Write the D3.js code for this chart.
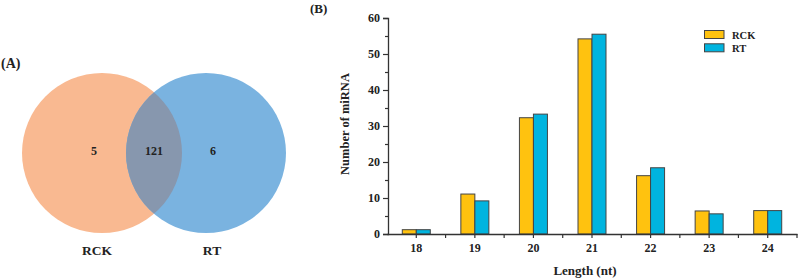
<!DOCTYPE html>
<html><head><meta charset="utf-8">
<script src="https://cdn.jsdelivr.net/npm/d3@7"></script>
<style>body{margin:0;background:#fff}svg{display:block}text{font-family:"Liberation Serif","Times New Roman",serif;font-weight:bold;fill:#222}</style>
</head><body><svg id="c" width="800" height="279"></svg>
<script>
const categories = ["18","19","20","21","22","23","24"];
const seriesNames = ["RCK","RT"];
const rckValues = [1.2, 11.1, 32.3, 54.2, 16.2, 6.4, 6.5];
const rtValues = [1.2, 9.2, 33.3, 55.5, 18.4, 5.6, 6.5];
const yTicks = [0,10,20,30,40,50,60];
const vennSets = ["RCK","RT"];
const vennCounts = [5, 121, 6]; // RCK only, both, RT only

const svg = d3.select("#c");
const colors = {RCK:"#FFC20F", RT:"#00B4DF"};

// ---- Venn ----
const r = 80, cy = 153, cxL = 102, cxR = 206;
svg.append("text").attr("x",1).attr("y",68).attr("font-size",14).text("(A)");
svg.append("circle").attr("cx",cxL).attr("cy",cy).attr("r",r).attr("fill","#F9B991");
svg.append("circle").attr("cx",cxR).attr("cy",cy).attr("r",r).attr("fill","#7AB3E0");
const defs = svg.append("defs");
defs.append("clipPath").attr("id","clipL").append("circle").attr("cx",cxL).attr("cy",cy).attr("r",r);
svg.append("circle").attr("cx",cxR).attr("cy",cy).attr("r",r).attr("fill","#8797AE").attr("clip-path","url(#clipL)");
const vx = [94, 154, 213];
vennCounts.forEach((v,i)=>svg.append("text").attr("x",vx[i]).attr("y",154.5).attr("text-anchor","middle").attr("font-size",12).text(v));
svg.append("text").attr("x",97).attr("y",255).attr("text-anchor","middle").attr("font-size",13.5).text(vennSets[0]);
svg.append("text").attr("x",212).attr("y",255).attr("text-anchor","middle").attr("font-size",13.5).text(vennSets[1]);

// ---- Bar chart ----
svg.append("text").attr("x",310).attr("y",13).attr("font-size",13).text("(B)");
const x = d3.scaleBand().domain(categories).range([387,797]).paddingInner(0).paddingOuter(0);
const y = d3.scaleLinear().domain([0,60]).range([234,18]);
const bw = 14;
const g = svg.append("g");
const data = categories.map((c,i)=>({c, vals:[rckValues[i], rtValues[i]]}));
data.forEach(d=>{
  d.vals.forEach((v,j)=>{
    const cx = x(d.c)+x.bandwidth()/2;
    g.append("rect").attr("x", cx - bw + j*bw).attr("y", y(v)).attr("width", bw).attr("height", y(0)-y(v))
      .attr("fill", colors[seriesNames[j]]).attr("stroke","#444").attr("stroke-width",1);
  });
});
// y axis
const yAxis = d3.axisLeft(y).tickValues(yTicks).tickSize(5).tickPadding(3);
const ya = svg.append("g").attr("transform","translate(388,0)").call(yAxis);
ya.select(".domain").attr("stroke","#333").attr("stroke-width",1.3);
ya.selectAll(".tick line").attr("stroke","#333").attr("stroke-width",1.2);
ya.selectAll(".tick text").attr("font-size",12).attr("fill","#222").attr("font-family","Liberation Serif, serif").attr("font-weight","bold");
const yMinor = d3.axisLeft(y).tickValues(d3.range(5,60,10)).tickSize(3).tickFormat("");
const ym = svg.append("g").attr("transform","translate(388,0)").call(yMinor);
ym.select(".domain").remove(); ym.selectAll(".tick line").attr("stroke","#333").attr("stroke-width",1.2);
// x axis
const xAxis = d3.axisBottom(x).tickSize(4).tickPadding(5).tickSizeOuter(0);
const xa = svg.append("g").attr("transform","translate(0,234)").call(xAxis);
xa.select(".domain").attr("stroke","#333").attr("stroke-width",1.3);
xa.selectAll(".tick line").attr("stroke","#333").attr("stroke-width",1.2);
xa.selectAll(".tick text").attr("font-size",12).attr("fill","#222").attr("font-family","Liberation Serif, serif").attr("font-weight","bold");
const xm = svg.append("g").attr("transform","translate(0,234)");
categories.slice(1).forEach(c=>{
  xm.append("line").attr("x1",x(c)).attr("x2",x(c)).attr("y1",0).attr("y2",4).attr("stroke","#333").attr("stroke-width",1.2);
});
xm.append("line").attr("x1",797).attr("x2",797).attr("y1",0).attr("y2",4).attr("stroke","#333").attr("stroke-width",1.2);
svg.append("text").attr("x",585).attr("y",275).attr("text-anchor","middle").attr("font-size",13).text("Length (nt)");
svg.append("text").attr("transform","translate(349,124) rotate(-90)").attr("text-anchor","middle").attr("font-size",12.5).text("Number of miRNA");
// legend
seriesNames.forEach((s,i)=>{
  svg.append("rect").attr("x",704.5).attr("y",30.5+i*13.3).attr("width",19.5).attr("height",8).attr("fill",colors[s]).attr("stroke","#444").attr("stroke-width",1);
  svg.append("text").attr("x",732).attr("y",38.5+i*13.3).attr("font-size",10.5).text(s);
});
</script></body></html>
